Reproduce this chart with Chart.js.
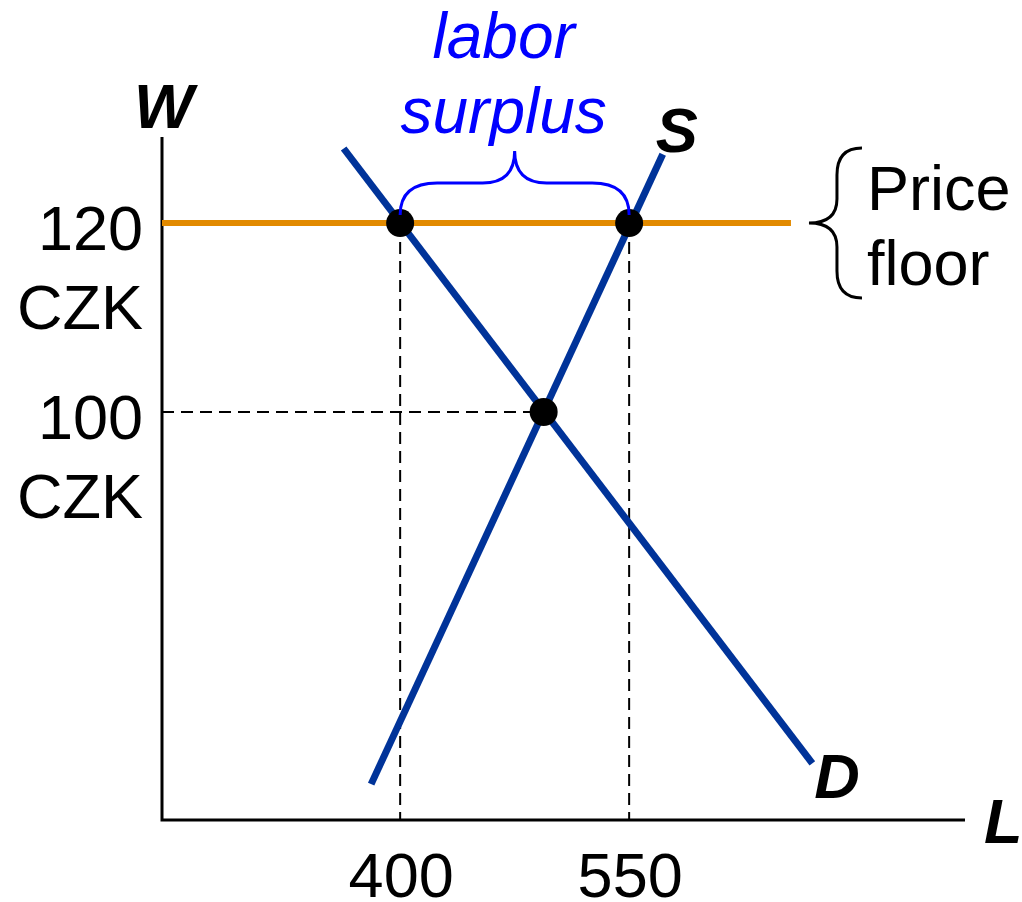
<!DOCTYPE html>
<html>
<head>
<meta charset="utf-8">
<script src="https://cdn.jsdelivr.net/npm/chart.js@4/dist/chart.umd.min.js"></script>
<style>
  html, body { margin: 0; padding: 0; background: #ffffff; }
  canvas { display: block; }
</style>
</head>
<body>
<canvas id="c" width="1022" height="902" style="width:1022px;height:902px"></canvas>
<script>
// ---- data ----
const laborTicks = [400, 550];          // L axis tick values
const wageTicks = [120, 100];           // W axis tick values
const wageUnit = "CZK";
const demandL = [363, 670];
const demandW = [127.9, 62.8];
const supplyL = [381, 572];
const supplyW = [60.6, 127.3];
const floorWage = 120;
const floorL = [244, 656];
const equilibriumL = 494;
const equilibriumW = 100;
const markerL = [400, 550, equilibriumL];
const markerW = [floorWage, floorWage, equilibriumW];
const xRange = [244, 770];
const yRange = [56.8, 128.8];

const pts = (xs, ys) => xs.map((x, i) => ({ x: x, y: ys[i] }));

const BLUE = '#003399';
const ORANGE = '#e28a00';
const FONT = '"Liberation Sans", Arial, Helvetica, sans-serif';

const datasets = [
  // dashed guides
  { data: [{x: laborTicks[0], y: floorWage}, {x: laborTicks[0], y: yRange[0]}], showLine: true, borderColor: '#000', borderWidth: 2, borderDash: [12, 7], pointRadius: 0, order: 4 },
  { data: [{x: laborTicks[1], y: floorWage}, {x: laborTicks[1], y: yRange[0]}], showLine: true, borderColor: '#000', borderWidth: 2, borderDash: [12, 7], pointRadius: 0, order: 4 },
  { data: [{x: xRange[0], y: equilibriumW}, {x: equilibriumL, y: equilibriumW}], showLine: true, borderColor: '#000', borderWidth: 2, borderDash: [12, 7], pointRadius: 0, order: 4 },
  // price floor
  { data: pts(floorL, [floorWage, floorWage]), showLine: true, borderColor: ORANGE, borderWidth: 6, pointRadius: 0, borderCapStyle: 'butt', order: 3 },
  // demand & supply
  { data: pts(demandL, demandW), showLine: true, borderColor: BLUE, borderWidth: 7, pointRadius: 0, borderCapStyle: 'butt', order: 2 },
  { data: pts(supplyL, supplyW), showLine: true, borderColor: BLUE, borderWidth: 7, pointRadius: 0, borderCapStyle: 'butt', order: 2 },
  // markers
  { data: pts(markerL, markerW), showLine: false, pointRadius: 14, pointBackgroundColor: '#000', pointBorderWidth: 0, order: 1 }
];

function text(ctx, str, x, y, font, color, align) {
  ctx.font = font;
  ctx.fillStyle = color;
  ctx.textAlign = align || 'left';
  ctx.textBaseline = 'alphabetic';
  ctx.fillText(str, x, y);
}

const decor = {
  id: 'decor',
  beforeDatasetsDraw(chart) {
    const ctx = chart.ctx, a = chart.chartArea;
    ctx.save();
    ctx.strokeStyle = '#000';
    ctx.lineWidth = 3;
    ctx.lineCap = 'butt';
    ctx.beginPath();
    ctx.moveTo(a.left, a.top - 3);
    ctx.lineTo(a.left, a.bottom);
    ctx.lineTo(a.right, a.bottom);
    ctx.stroke();
    ctx.restore();
  },
  afterDraw(chart) {
    const ctx = chart.ctx, a = chart.chartArea;
    const xs = chart.scales.x, ys = chart.scales.y;
    const reg = '63px ' + FONT;
    const bi = 'italic bold 63px ' + FONT;
    const it = 'italic 64px ' + FONT;
    ctx.save();
    // y tick labels
    wageTicks.forEach(v => {
      const p = ys.getPixelForValue(v);
      text(ctx, String(v), a.left - 19, p + 27, reg, '#000', 'right');
      text(ctx, wageUnit, a.left - 19, p + 106, reg, '#000', 'right');
    });
    // x tick labels
    laborTicks.forEach(v => {
      const p = xs.getPixelForValue(v);
      text(ctx, String(v), p + 1, a.bottom + 77, reg, '#000', 'center');
    });
    // axis titles
    text(ctx, 'W', a.left - 28, a.top - 12, bi, '#000', 'left');
    text(ctx, 'L', a.right + 19, a.bottom + 23, bi, '#000', 'left');
    // curve labels
    const sx = xs.getPixelForValue(supplyL[1]), sy = ys.getPixelForValue(supplyW[1]);
    text(ctx, 'S', sx - 7, sy - 2, bi, '#000', 'left');
    const dx = xs.getPixelForValue(demandL[1]), dy = ys.getPixelForValue(demandW[1]);
    text(ctx, 'D', dx + 2, dy + 35, bi, '#000', 'left');

    // labor surplus brace (blue)
    const fy = ys.getPixelForValue(floorWage);
    const x1 = xs.getPixelForValue(markerL[0]), x2 = xs.getPixelForValue(markerL[1]);
    const xm = (x1 + x2) / 2;
    const yEnd = fy - 8, yBar = fy - 40, yTip = fy - 72;
    ctx.strokeStyle = '#0000ff';
    ctx.lineWidth = 3;
    ctx.beginPath();
    ctx.moveTo(x1, yEnd);
    ctx.quadraticCurveTo(x1, yBar, x1 + 37, yBar);
    ctx.lineTo(xm - 32, yBar);
    ctx.quadraticCurveTo(xm, yBar, xm, yTip);
    ctx.quadraticCurveTo(xm, yBar, xm + 32, yBar);
    ctx.lineTo(x2 - 37, yBar);
    ctx.quadraticCurveTo(x2, yBar, x2, yEnd);
    ctx.stroke();
    text(ctx, 'labor', xm - 11, fy - 165, it, '#0000ff', 'center');
    text(ctx, 'surplus', xm - 11, fy - 90, it, '#0000ff', 'center');

    // price floor brace (black)
    const fx = xs.getPixelForValue(floorL[1]);
    const bTip = fx + 18, bStem = fx + 46, bEnd = fx + 71;
    const top = fy - 75, bot = fy + 75;
    ctx.strokeStyle = '#000';
    ctx.lineWidth = 3;
    ctx.beginPath();
    ctx.moveTo(bEnd, top);
    ctx.quadraticCurveTo(bStem, top, bStem, top + 27);
    ctx.lineTo(bStem, fy - 24);
    ctx.quadraticCurveTo(bStem, fy, bTip, fy);
    ctx.quadraticCurveTo(bStem, fy, bStem, fy + 24);
    ctx.lineTo(bStem, bot - 27);
    ctx.quadraticCurveTo(bStem, bot, bEnd, bot);
    ctx.stroke();
    text(ctx, 'Price', fx + 76, fy - 13, reg, '#000', 'left');
    text(ctx, 'floor', fx + 76, fy + 62, reg, '#000', 'left');
    ctx.restore();
  }
};

new Chart(document.getElementById('c').getContext('2d'), {
  type: 'scatter',
  data: { datasets: datasets },
  options: {
    responsive: false,
    animation: false,
    layout: { padding: { left: 162, right: 57, top: 140, bottom: 82 } },
    scales: {
      x: { type: 'linear', display: false, min: xRange[0], max: xRange[1] },
      y: { type: 'linear', display: false, min: yRange[0], max: yRange[1] }
    },
    plugins: { legend: { display: false }, tooltip: { enabled: false } },
    events: []
  },
  plugins: [decor]
});
</script>
</body>
</html>
